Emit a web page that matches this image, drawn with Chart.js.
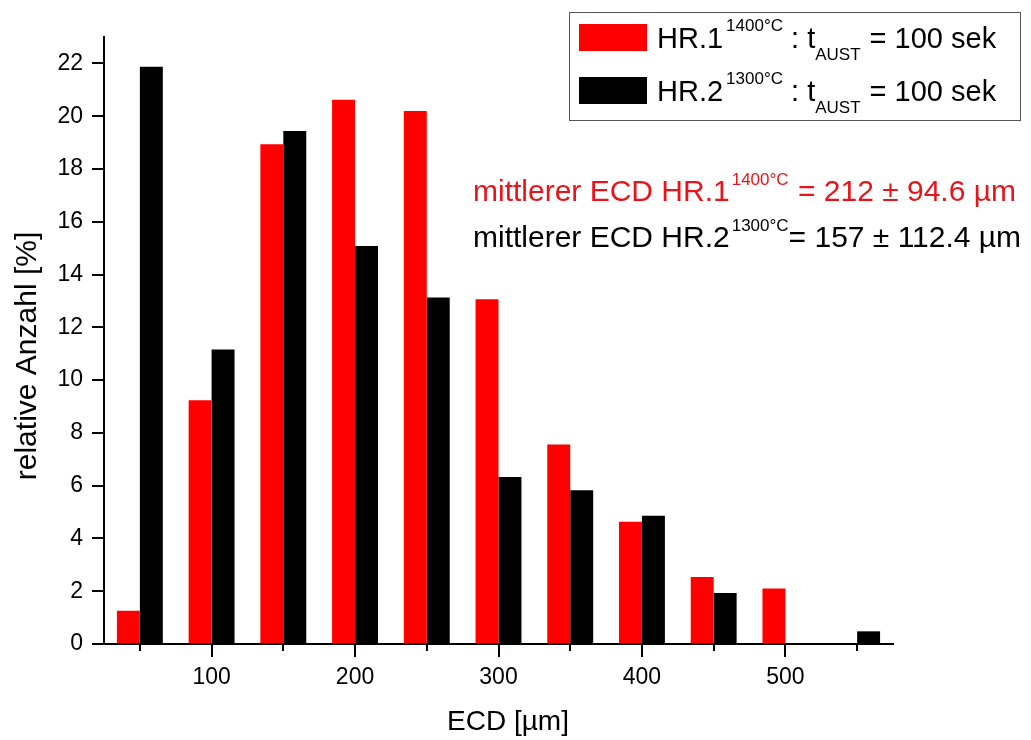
<!DOCTYPE html>
<html><head><meta charset="utf-8">
<script src="https://cdn.jsdelivr.net/npm/chart.js@4.4.1/dist/chart.umd.min.js"></script>
<style>html,body{margin:0;padding:0;background:#fff}#wrap{width:1031px;height:740px;position:relative}</style>
</head><body><div id="wrap"><canvas id="c" width="1031" height="740"></canvas></div>
<script>
// ---- data ----
const categories = [50, 100, 150, 200, 250, 300, 350, 400, 450, 500, 550];
const hr1Values = [1.26, 9.24, 18.94, 20.62, 20.2, 13.06, 7.56, 4.63, 2.54, 2.1, 0];
const hr2Values = [21.87, 11.16, 19.44, 15.08, 13.13, 6.33, 5.83, 4.86, 1.93, 0, 0.48];
const xTickLabels = [100, 200, 300, 400, 500];
const yTickLabels = [0, 2, 4, 6, 8, 10, 12, 14, 16, 18, 20, 22];
const seriesNames = ['HR.1', 'HR.2'];
const seriesTemps = ['1400°C', '1300°C'];
const meanTexts = [' = 212 ± 94.6 µm', '= 157 ± 112.4 µm'];
const seriesColors = ['#ff0000', '#000000'];
const xTitle = 'ECD [µm]';
const yTitle = 'relative Anzahl [%]';

const FONT = '"Liberation Sans", Arial, sans-serif';

function drawRich(ctx, x, y, parts, color) {
  ctx.fillStyle = color;
  ctx.textBaseline = 'alphabetic';
  ctx.textAlign = 'left';
  for (const p of parts) {
    x += (p.gap || 0);
    ctx.font = p.size + 'px ' + FONT;
    ctx.fillText(p.text, x, y + (p.dy || 0));
    x += ctx.measureText(p.text).width;
  }
}

const decorPlugin = {
  id: 'decor',
  afterDraw(chart) {
    const ctx = chart.ctx;
    const xs = chart.scales.x, ys = chart.scales.y;
    ctx.save();
    ctx.strokeStyle = '#000';
    ctx.lineWidth = 2;
    // y ticks (major on labelled values, minor otherwise)
    ys.ticks.forEach(t => {
      const py = Math.round(ys.getPixelForValue(t.value));
      const len = yTickLabels.includes(t.value) ? 12 : 7;
      ctx.beginPath(); ctx.moveTo(ys.right - len, py); ctx.lineTo(ys.right, py); ctx.stroke();
    });
    // x ticks
    xs.ticks.forEach((t, i) => {
      const px = Math.round(xs.getPixelForTick(i));
      const len = xTickLabels.includes(categories[i]) ? 13 : 7;
      ctx.beginPath(); ctx.moveTo(px, xs.top); ctx.lineTo(px, xs.top + len); ctx.stroke();
    });
    // axis titles
    ctx.fillStyle = '#000';
    ctx.textAlign = 'center';
    ctx.textBaseline = 'middle';
    ctx.font = '28px ' + FONT;
    ctx.fillText(xTitle, 508, 722);
    ctx.save();
    ctx.translate(28, 356);
    ctx.rotate(-Math.PI / 2);
    ctx.font = '30px ' + FONT;
    ctx.fillText(yTitle, 0, 0);
    ctx.restore();
    // legend box
    ctx.strokeStyle = '#555';
    ctx.lineWidth = 1;
    ctx.strokeRect(569.5, 12.5, 451, 108);
    const rows = [48, 101];
    chart.data.datasets.forEach((ds, i) => {
      ctx.fillStyle = ds.backgroundColor;
      ctx.fillRect(579, rows[i] - 24, 68, 27);
      drawRich(ctx, 657, rows[i], [
        {text: seriesNames[i], size: 29},
        {text: seriesTemps[i], size: 17, dy: -17, gap: 3},
        {text: ' : t', size: 29},
        {text: 'AUST', size: 17, dy: 12},
        {text: ' = 100 sek', size: 29, gap: 1}
      ], '#000');
    });
    // mean annotations
    drawRich(ctx, 473, 201, [
      {text: 'mittlerer ECD ' + seriesNames[0], size: 30},
      {text: seriesTemps[0], size: 17, dy: -16, gap: 2},
      {text: meanTexts[0], size: 30, gap: 1}
    ], '#e8141c');
    drawRich(ctx, 473, 247, [
      {text: 'mittlerer ECD ' + seriesNames[1], size: 30},
      {text: seriesTemps[1], size: 17, dy: -16, gap: 2},
      {text: meanTexts[1], size: 30}
    ], '#000');
    ctx.restore();
  }
};

new Chart(document.getElementById('c'), {
  type: 'bar',
  data: {
    labels: categories,
    datasets: [
      {label: seriesNames[0], data: hr1Values, backgroundColor: seriesColors[0], borderWidth: 0},
      {label: seriesNames[1], data: hr2Values, backgroundColor: seriesColors[1], borderWidth: 0}
    ]
  },
  options: {
    responsive: false,
    animation: false,
    devicePixelRatio: 1,
    layout: {padding: {top: 37, right: 138, left: 0, bottom: 0}},
    plugins: {legend: {display: false}, tooltip: {enabled: false}},
    datasets: {bar: {categoryPercentage: 0.64, barPercentage: 1.0}},
    scales: {
      x: {
        offset: true,
        grid: {display: true, drawOnChartArea: false, drawTicks: false, offset: false, color: 'rgba(0,0,0,0)'},
        border: {display: true, color: '#000', width: 2},
        ticks: {
          autoSkip: false, maxRotation: 0, padding: 20, color: '#000',
          font: {family: FONT, size: 23},
          callback: function (v, i) { const c = categories[i]; return xTickLabels.includes(c) ? String(c) : ''; }
        },
        title: {display: false},
        afterFit(scale) { scale.height = 96; }
      },
      y: {
        min: 0, max: 23,
        grid: {display: true, drawOnChartArea: false, drawTicks: false, color: 'rgba(0,0,0,0)'},
        border: {display: true, color: '#000', width: 2},
        ticks: {
          stepSize: 1, padding: 21, color: '#000',
          font: {family: FONT, size: 23},
          callback: v => yTickLabels.includes(v) ? String(v) : ''
        },
        title: {display: false},
        afterFit(scale) { scale.width = 104; }
      }
    }
  },
  plugins: [decorPlugin]
});
</script>
</body></html>
